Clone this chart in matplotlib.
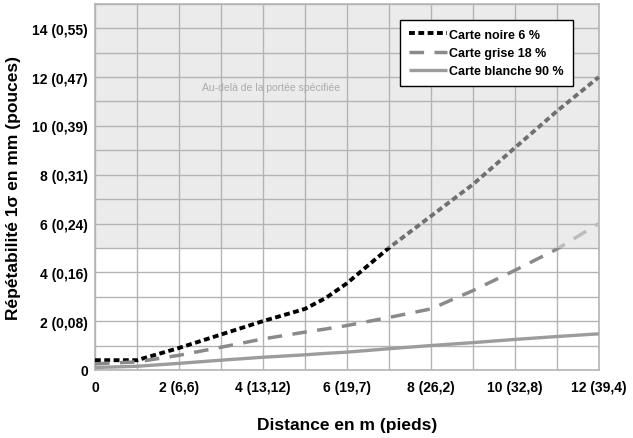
import matplotlib
matplotlib.use("Agg")
import matplotlib.pyplot as plt
from matplotlib.patches import Rectangle

plt.rcParams["font.family"] = ["Liberation Sans Narrow", "Liberation Sans", "DejaVu Sans"]

# donnees
dist_m = [0, 1, 2, 3, 4, 5, 5.5, 6, 7, 8, 9, 10, 11, 12]
noire_6 = [0.4, 0.4, 0.9, 1.45, 2.0, 2.5, 2.95, 3.55, 5.0, 6.3, 7.6, 9.1, 10.6, 12.0]
grise_18 = [0.25, 0.33, 0.6, 0.93, 1.27, 1.55, 1.68, 1.82, 2.15, 2.5, 3.25, 4.08, 4.95, 6.0]
blanche_90 = [0.1, 0.15, 0.27, 0.4, 0.52, 0.62, 0.68, 0.73, 0.87, 1.0, 1.12, 1.25, 1.37, 1.48]

xticks = [0, 2, 4, 6, 8, 10, 12]
xlabels = ["0", "2 (6,6)", "4 (13,12)", "6 (19,7)", "8 (26,2)", "10 (32,8)", "12 (39,4)"]
yticks = [0, 2, 4, 6, 8, 10, 12, 14]
ylabels = ["0", "2 (0,08)", "4 (0,16)", "6 (0,24)", "8 (0,31)", "10 (0,39)", "12 (0,47)", "14 (0,55)"]
limite = 5  # au-dela de la portee specifiee

fig = plt.figure(figsize=(6.33, 4.39), dpi=100)
ax = fig.add_axes([0.150, 0.155, 0.796, 0.834])

ax.axhspan(limite, 15, color="#ebebeb", zorder=0, lw=0)
ax.text(4.2, 11.6, "Au-delà de la portée spécifiée", fontsize=7.5,
        color="#ababab", ha="center", va="center", family=["Liberation Sans", "DejaVu Sans"])

series = [
    (noire_6, "Carte noire 6 %", "#000000", "#707070", 2.8, (1.5, 0.9)),
    (grise_18, "Carte grise 18 %", "#8a8a8a", "#bdbdbd", 2.5, (4.2, 3.0)),
    (blanche_90, "Carte blanche 90 %", "#9c9c9c", "#c8c8c8", 2.4, None),
]
for y, lab, c_in, c_out, lw, dash in series:
    kw = dict(lw=lw, solid_capstyle="butt", dash_capstyle="butt")
    if dash:
        kw["dashes"] = dash
    ln, = ax.plot(dist_m, y, color=c_in, label=lab, zorder=3, **kw)
    ln.set_clip_path(Rectangle((-1, -1), 14, limite + 1, transform=ax.transData))
    ln2, = ax.plot(dist_m, y, color=c_out, zorder=3, **kw)
    ln2.set_clip_path(Rectangle((-1, limite), 14, 20, transform=ax.transData))

ax.set_xlim(0, 12)
ax.set_ylim(0, 15)
ax.set_xticks(xticks)
ax.set_xticklabels(xlabels, fontsize=10, fontweight="bold")
ax.set_xticks(range(0, 13), minor=True)
ax.set_yticks(yticks)
ax.set_yticklabels(ylabels, fontsize=10, fontweight="bold")
ax.set_yticks(range(0, 16), minor=True)
ax.tick_params(which="both", length=0)
ax.tick_params(axis="x", pad=7)
ax.tick_params(axis="y", pad=5)
ax.grid(True, which="both", color="#b4b4b4", lw=1)
ax.set_axisbelow(True)
for s in ax.spines.values():
    s.set_color("#b4b4b4")
    s.set_linewidth(1.2)

ax.set_xlabel("Distance en m (pieds)", fontsize=12.5, fontweight="bold", labelpad=17)
ax.set_ylabel("Répétabilité 1σ en mm (pouces)", fontsize=12.5, fontweight="bold", labelpad=8)

leg = ax.legend(loc="upper right", bbox_to_anchor=(0.948, 0.956), borderaxespad=0,
                prop={"weight": "bold", "size": 9}, frameon=True, fancybox=False,
                handlelength=3.0, handletextpad=0.2, labelspacing=0.5, borderpad=0.7)
leg.get_frame().set_edgecolor("black")
leg.get_frame().set_linewidth(1)
leg.get_frame().set_alpha(1)

fig.savefig("out.png", dpi=100)
